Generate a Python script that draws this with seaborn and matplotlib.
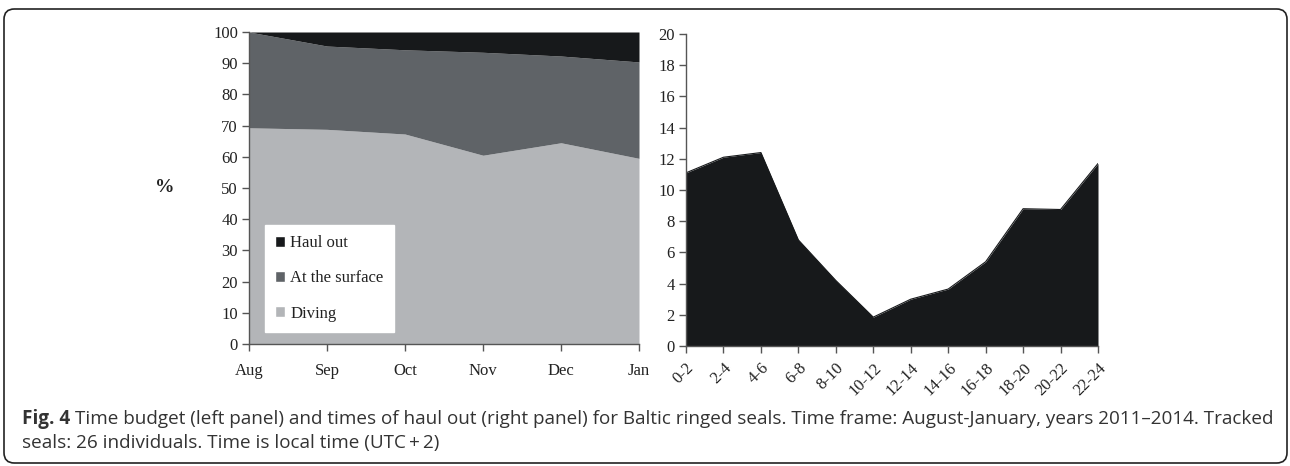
import numpy as np
import pandas as pd
import matplotlib
matplotlib.use("Agg")
import matplotlib.pyplot as plt
from matplotlib import font_manager
from matplotlib.patches import FancyBboxPatch, Patch
import seaborn as sns

# Left panel: time budget (%), per month
months = ["Aug", "Sep", "Oct", "Nov", "Dec", "Jan"]
diving = [69.3, 68.8, 67.3, 60.5, 64.5, 59.5]
surface_top = [100.0, 95.5, 94.3, 93.5, 92.3, 90.4]  # diving + at the surface
at_surface = [t - d for t, d in zip(surface_top, diving)]
haul_out = [100.0 - t for t in surface_top]

# Right panel: haul out by time of day (%)
hours = ["0-2", "2-4", "4-6", "6-8", "8-10", "10-12",
         "12-14", "14-16", "16-18", "18-20", "20-22", "22-24"]
haul_by_hour = [11.1, 12.1, 12.4, 6.8, 4.2, 1.85, 3.0, 3.65, 5.4, 8.8, 8.75, 11.7]

C_HAUL = "#17191b"
C_SURF = "#5f6367"
C_DIVE = "#b3b5b8"
AXIS_C = "#555555"

sns.set_theme(style="white")
plt.rcParams["font.family"] = ["Liberation Serif", "DejaVu Serif"]

W, H = 1290, 466
fig = plt.figure(figsize=(W / 100, H / 100), dpi=100)


def px_axes(x0, y_top, x1, y_bot):
    return fig.add_axes([x0 / W, 1 - y_bot / H, (x1 - x0) / W, (y_bot - y_top) / H])


def style_axes(ax):
    for s in ["top", "right"]:
        ax.spines[s].set_visible(False)
    for s in ["left", "bottom"]:
        ax.spines[s].set_color(AXIS_C)
        ax.spines[s].set_linewidth(1.0)
    ax.tick_params(axis="both", which="both", direction="out", length=5,
                   width=1.0, color=AXIS_C, labelsize=12, labelcolor="#222222",
                   left=True, bottom=True, pad=3)


# ---- left panel: stacked area ----
df = pd.DataFrame({"month": months, "Diving": diving,
                   "At the surface": at_surface, "Haul out": haul_out})
x = np.arange(len(df))
ax1 = px_axes(249, 32, 639, 344)
ax1.stackplot(x, df["Diving"], df["At the surface"], df["Haul out"],
              colors=[C_DIVE, C_SURF, C_HAUL], linewidth=0)
ax1.set_xlim(0, len(df) - 1)
ax1.set_ylim(0, 100)
ax1.set_yticks(range(0, 101, 10))
ax1.set_xticks(x)
ax1.set_xticklabels(df["month"])
style_axes(ax1)
ax1.tick_params(axis="x", pad=9)
ax1.set_ylabel("%", rotation=0, fontsize=14, fontweight="bold", labelpad=35,
               va="center", color="#222222")

handles = [Patch(facecolor=C_HAUL, label="Haul out"),
           Patch(facecolor=C_SURF, label="At the surface"),
           Patch(facecolor=C_DIVE, label="Diving")]
leg = ax1.legend(handles=handles, loc="lower left", bbox_to_anchor=(0.04, 0.04),
                 frameon=True, fancybox=False, framealpha=1, edgecolor="white",
                 fontsize=12, handlelength=0.65, handleheight=0.65, handletextpad=0.3,
                 labelspacing=1.15, borderpad=0.6, borderaxespad=0)
for t in leg.get_texts():
    t.set_color("#222222")

# ---- right panel: haul out by hour ----
dh = pd.DataFrame({"hour": hours, "pct": haul_by_hour})
xh = np.arange(len(dh))
ax2 = px_axes(686, 34, 1098, 346)
ax2.fill_between(xh, 0, dh["pct"], color=C_HAUL, linewidth=0)
sns.lineplot(x=xh, y=dh["pct"].values, ax=ax2, color=C_HAUL, linewidth=0.8)
ax2.set_xlim(0, len(dh) - 1)
ax2.set_ylim(0, 20)
ax2.set_yticks(range(0, 21, 2))
ax2.set_xticks(xh)
ax2.set_xticklabels(dh["hour"], rotation=45, ha="right", rotation_mode="anchor")
style_axes(ax2)
ax2.tick_params(axis="x", pad=5)
ax2.set_xlabel("")
ax2.set_ylabel("")

# ---- frame and caption ----
frame = FancyBboxPatch((4 / W, 1 - 463 / H), 1283 / W, 454 / H,
                       boxstyle="round,pad=0,rounding_size=0.008",
                       transform=fig.transFigure, facecolor="none",
                       edgecolor="#222222", linewidth=1.2, mutation_aspect=W / H)
fig.patches.append(frame)

installed = {f.name for f in font_manager.fontManager.ttflist}
cap_name = "Liberation Sans Narrow" if "Liberation Sans Narrow" in installed else "Open Sans"
cap_font = [cap_name, "DejaVu Sans"]

line1 = ("Time budget (left panel) and times of haul out (right panel) for Baltic ringed seals. "
         "Time frame: August-January, years 2011\u20132014. Tracked")
line2 = "seals: 26 individuals. Time is local time (UTC\u2009+\u20092)"

fig.canvas.draw()
r = fig.canvas.get_renderer()
cap_size = 12.5
t_bold = fig.text(22 / W, 1 - 419 / H, "Fig. 4", fontsize=cap_size, fontweight="bold",
                  family=cap_font, color="#333333", va="center")
bb = t_bold.get_window_extent(renderer=r)
t1 = fig.text((bb.x1 + 5) / W, 1 - 419 / H, line1, fontsize=cap_size,
              family=cap_font, color="#333333", va="center")
# scale caption so the first line ends near the right edge like the figure
end = t1.get_window_extent(renderer=r).x1
scale = (1275 - 22) / (end - 22)
cap_size *= scale
t_bold.set_fontsize(cap_size)
bb = t_bold.get_window_extent(renderer=r)
t1.set_fontsize(cap_size)
t1.set_x((bb.x1 + 5) / W)
fig.text(22 / W, 1 - 443 / H, line2, fontsize=cap_size,
         family=cap_font, color="#333333", va="center")

fig.savefig("out.png", dpi=100, facecolor="white")
